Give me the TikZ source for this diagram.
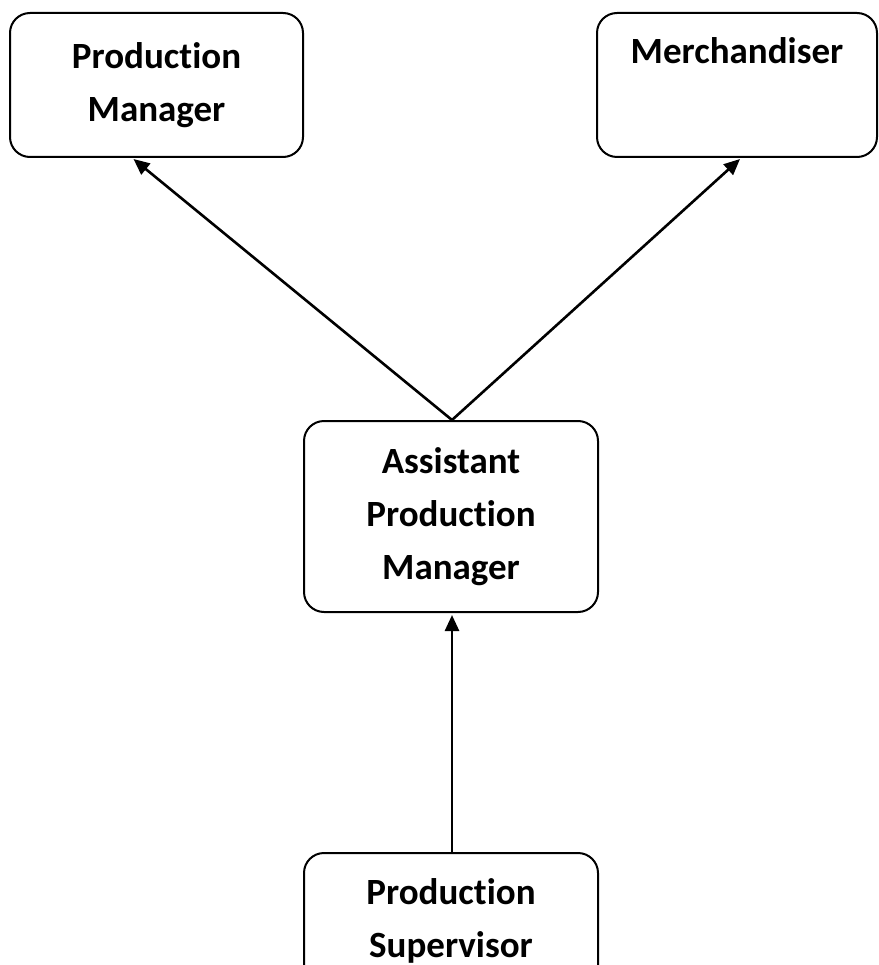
\documentclass[tikz,border=0pt]{standalone}
\usepackage{fontspec}
\setmainfont[Ligatures=NoCommon]{Carlito}
\usetikzlibrary{arrows.meta}
\begin{document}
\begin{tikzpicture}[x=1pt,y=1pt,
  box/.style={draw=black, line width=2pt, rounded corners=20pt, inner sep=0pt,
    align=center, font=\fontsize{37}{53}\selectfont\bfseries},
  conn/.style={line width=2.6pt, -{Triangle[length=16pt,width=14pt]}}]
\useasboundingbox (0,0) rectangle (878,-965);
\clip (0,0) rectangle (878,-965);
\node[box, minimum width=293pt, minimum height=144pt] (pm) at (156.5,-85) {Production\\Manager};
\node[box, minimum width=280pt, minimum height=144pt] (mer) at (737,-85) {Merchandiser\\\strut};
\node[box, minimum width=294pt, minimum height=191pt] (apm) at (451,-516.5) {Assistant\\Production\\Manager};
\node[box, minimum width=294pt, minimum height=136pt] (ps) at (451,-921) {Production\\Supervisor};
\draw[conn] ([xshift=1pt]apm.north) -- ([xshift=-23pt,yshift=-1pt]pm.south);
\draw[conn] ([xshift=1pt]apm.north) -- ([xshift=3pt,yshift=-1pt]mer.south);
\draw[conn] ([xshift=1pt]ps.north) -- ([xshift=1pt,yshift=-2pt]apm.south);
\end{tikzpicture}
\end{document}
